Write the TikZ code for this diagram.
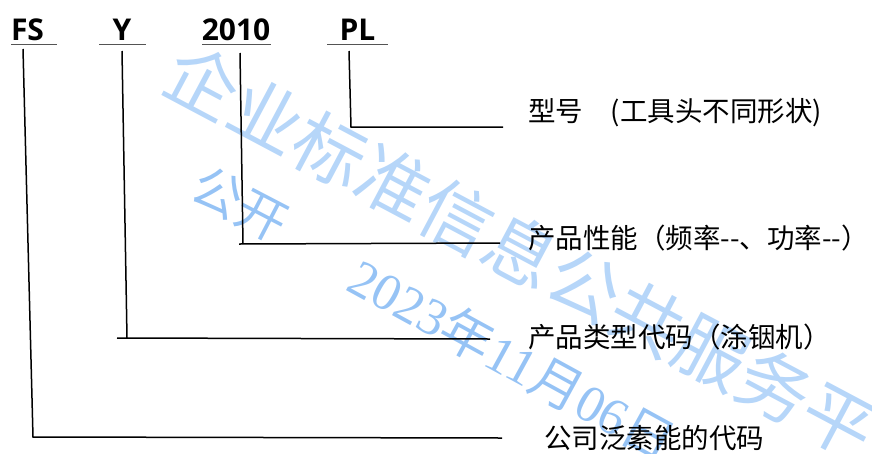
\documentclass[tikz,border=0pt]{standalone}
\usepackage{fontspec}
\newfontfamily\cjk{Noto Sans CJK SC}
\newfontfamily\hdr{Open Sans}
\newfontfamily\wmserif{Liberation Serif}
\definecolor{wm}{RGB}{150,195,245}
\definecolor{wmlight}{RGB}{182,214,249}
\begin{document}
\begin{tikzpicture}[x=1pt,y=-1pt,
  code/.style={font=\hdr\bfseries\fontsize{30}{36}\selectfont, inner sep=0pt, anchor=base},
  lbl/.style={font=\cjk\fontsize{27.5}{33}\selectfont, inner sep=0pt, anchor=west},
  uline/.style={draw=black!67, line width=1.3pt},
  conn/.style={draw=black, line width=1.5pt, line join=miter},
  wmtext/.style={text=wm, inner sep=0pt}]
\useasboundingbox (0,0) rectangle (872,453);
% watermark
\node[wmtext, text=wmlight, rotate=-28, font=\cjk\fontsize{72}{80}\selectfont] (wm1) at (553,268) {企业标准信息公共服务平台};
\node[wmtext, rotate=-27.5, font=\cjk\fontsize{50}{56}\selectfont] (wm2) at (240,204) {公开};
\node[wmtext, rotate=-28.7, font=\wmserif\fontsize{52}{58}\selectfont] (wm3) at (513,359) {2023{\cjk 年}11{\cjk 月}06{\cjk 日}};
% codes
\node[code] (fs) at (27.5,40) {FS};
\node[code] (y) at (122,40) {Y};
\node[code] (yr) at (236,40) {2010};
\node[code] (pl) at (357.5,40) {PL};
\draw[uline] (11,44.3) -- (57,44.3);
\draw[uline] (99,44.3) -- (146,44.3);
\draw[uline] (202,44.3) -- (271,44.3);
\draw[uline] (327,44.3) -- (388,44.3);
% labels
\node[lbl] (l1) at (528,113) {型号　(工具头不同形状)};
\node[lbl] (l2) at (528,238) {产品性能（频率-{}-、功率-{}-）};
\node[lbl] (l3) at (528,337) {产品类型代码（涂铟机）};
\node[lbl] (l4) at (544,438) {公司泛素能的代码};
% connectors
\coordinate (fsA) at (23,49);
\coordinate (fsB) at (33,437);
\coordinate (fsC) at (502,438);
\draw[conn] (fsA) -- (fsB) -- (fsC);
\coordinate (yA) at (122,51);
\coordinate (yB) at (127,338);
\coordinate (yC) at (117,338);
\coordinate (yD) at (490,339);
\draw[conn] (yA) -- (yB);
\draw[conn] (yC) -- (yD);
\coordinate (yrA) at (240,53);
\coordinate (yrB) at (243,244);
\coordinate (yrC) at (239,244);
\coordinate (yrD) at (500,243);
\draw[conn] (yrA) -- (yrB);
\draw[conn] (yrC) -- (yrD);
\coordinate (plA) at (349,51);
\coordinate (plB) at (351,127);
\coordinate (plC) at (503,127);
\draw[conn] (plA) -- (plB) -- (plC);
\end{tikzpicture}
\end{document}
